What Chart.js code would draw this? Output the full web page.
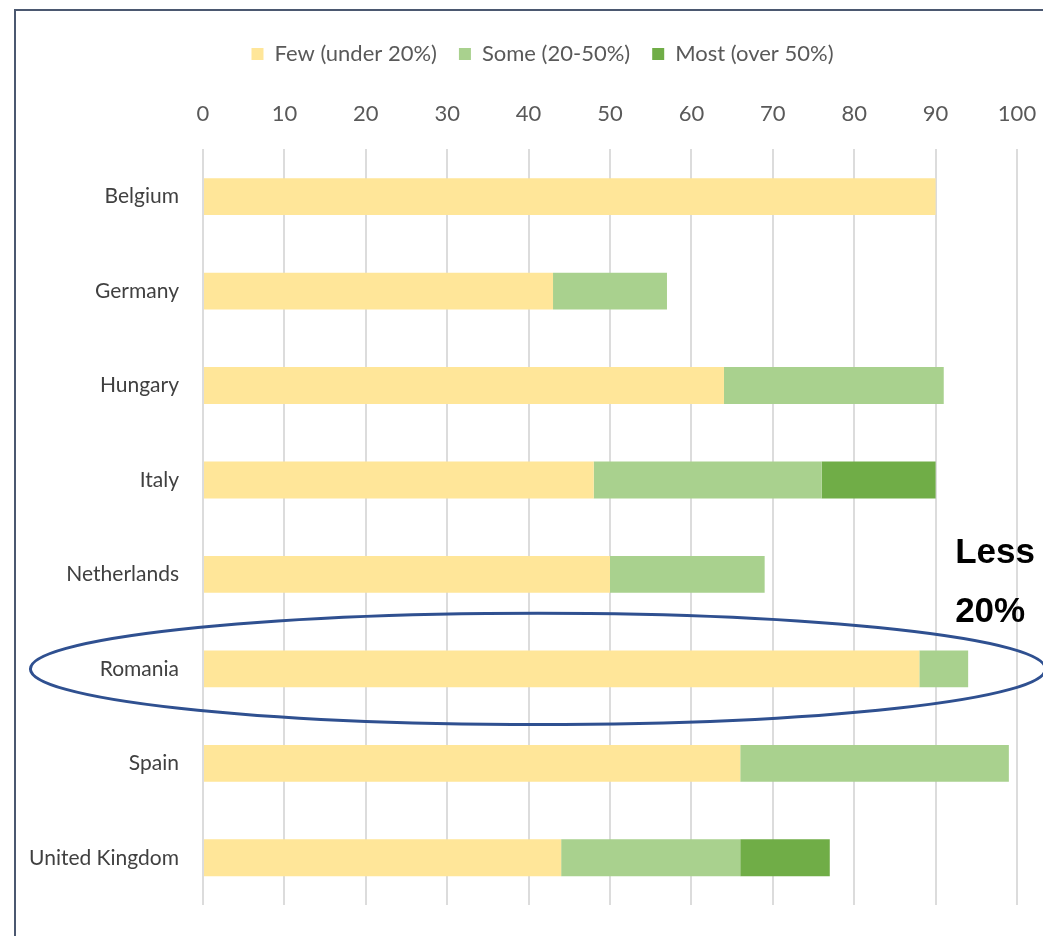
<!DOCTYPE html>
<html>
<head>
<meta charset="utf-8">
<title>Share of staff by country</title>
<script src="https://cdn.jsdelivr.net/npm/chart.js@4/dist/chart.umd.min.js"></script>
<style>
  html, body { margin: 0; padding: 0; background: #fff; overflow: hidden; }
  #frame {
    position: absolute; left: 14px; top: 9px; width: 1100px; height: 1000px;
    border-left: 2px solid #4b5870; border-top: 2px solid #4b5870;
  }
  #wrap { position: absolute; left: 16px; top: 12px; width: 1052px; height: 924px; }
</style>
</head>
<body>
<div id="frame"></div>
<div id="wrap"><canvas id="barChart"></canvas></div>
<script>
const FONT = 'Lato, "Liberation Sans", sans-serif';

const countries = ['Belgium', 'Germany', 'Hungary', 'Italy', 'Netherlands', 'Romania', 'Spain', 'United Kingdom'];
const seriesNames = ['Few (under 20%)', 'Some (20-50%)', 'Most (over 50%)'];
const fewValues  = [90, 43, 64, 48, 50, 88, 66, 44];
const someValues = [0, 14, 27, 28, 19, 6, 33, 22];
const mostValues = [0, 0, 0, 14, 0, 0, 0, 11];
const xTicks = [0, 10, 20, 30, 40, 50, 60, 70, 80, 90, 100];
const seriesColors = ['#ffe699', '#a9d18e', '#70ad47'];

const noteLines = ['Less', '20%'];
const highlighted = 'Romania';

// legend sits a little right of the full box centre
const legendShift = {
  id: 'legendShift',
  afterLayout(chart) {
    if (!chart.legend) return;
    chart.legend.left += 26;
    chart.legend.right += 26;
  }
};

// ring around one country plus the bold note beside it
const highlightPlugin = {
  id: 'highlight',
  afterDraw(chart) {
    const { ctx, scales: { x, y } } = chart;
    const idx = countries.indexOf(highlighted);
    const cy = y.getPixelForValue(idx);
    const pitch = y.getPixelForValue(1) - y.getPixelForValue(0);
    const left = x.getPixelForValue(-21.2);
    const right = x.getPixelForValue(103.5);
    ctx.save();
    ctx.beginPath();
    ctx.ellipse((left + right) / 2, cy, (right - left) / 2, pitch * 0.59, 0, 0, Math.PI * 2);
    ctx.strokeStyle = '#2f5090';
    ctx.lineWidth = 3;
    ctx.stroke();

    ctx.fillStyle = '#000';
    ctx.font = 'bold 35px "Liberation Sans", sans-serif';
    ctx.textBaseline = 'middle';
    ctx.textAlign = 'left';
    const tx = x.getPixelForValue(92.4);
    ctx.fillText(noteLines[0], tx, y.getPixelForValue(idx - 1.22));
    ctx.fillText(noteLines[1], tx, y.getPixelForValue(idx - 0.6));
    ctx.restore();
  }
};

const datasets = [fewValues, someValues, mostValues].map((vals, i) => ({
  label: seriesNames[i],
  data: vals,
  backgroundColor: seriesColors[i],
  borderWidth: 0,
  barPercentage: 0.39,
  categoryPercentage: 1
}));

new Chart(document.getElementById('barChart'), {
  type: 'bar',
  data: { labels: countries, datasets: datasets },
  options: {
    indexAxis: 'y',
    responsive: true,
    maintainAspectRatio: false,
    animation: false,
    layout: { padding: { top: 9, right: 51, bottom: 31, left: 0 } },
    plugins: {
      legend: {
        position: 'top',
        labels: {
          boxWidth: 12, boxHeight: 12, padding: 22,
          color: '#595959',
          font: { family: FONT, size: 22 }
        }
      },
      tooltip: { enabled: false }
    },
    scales: {
      x: {
        position: 'top',
        stacked: true,
        min: 0, max: 100,
        afterBuildTicks(scale) { scale.ticks = xTicks.map(v => ({ value: v })); },
        afterFit(scale) { scale.height += 4; },
        ticks: { color: '#595959', padding: 22, font: { family: FONT, size: 22 } },
        grid: { color: '#dcdcdc', lineWidth: 2, drawTicks: false },
        border: { display: false }
      },
      y: {
        stacked: true,
        afterFit(scale) { scale.width = 187; },
        ticks: { color: '#404040', padding: 16, font: { family: FONT, size: 21 } },
        grid: { display: false },
        border: { display: false }
      }
    }
  },
  plugins: [legendShift, highlightPlugin]
});
</script>
</body>
</html>
